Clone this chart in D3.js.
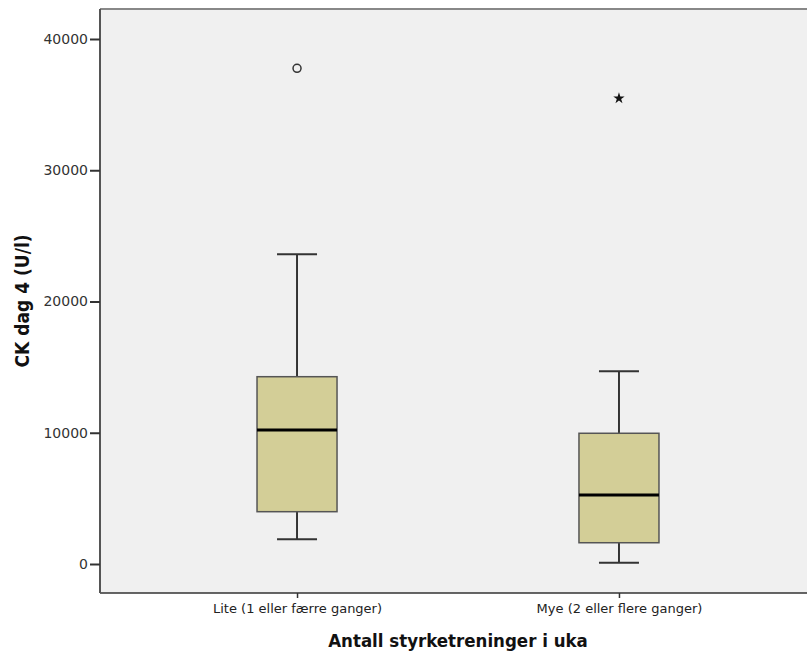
<!DOCTYPE html>
<html><head><meta charset="utf-8">
<script src="https://cdn.jsdelivr.net/npm/d3@7"></script>
<style>body{margin:0;background:#fff}svg{display:block}</style>
</head><body>
<script>
const categories = ["Lite (1 eller færre ganger)", "Mye (2 eller flere ganger)"];
const whiskerLow = [1880, 100];
const q1 = [3985, 1620];
const median = [10210, 5260];
const q3 = [14270, 9960];
const whiskerHigh = [23600, 14680];
const outlierValues = [37770, null];
const extremeValues = [null, 35480];
const yTicks = [0, 10000, 20000, 30000, 40000];

const W = 807, H = 655;
const m = {left: 100, top: 9, right: 816, bottom: 593};
const svg = d3.select("body").append("svg").attr("width", W).attr("height", H);

const x = d3.scalePoint().domain(categories).range([m.left, m.right]).padding(0.612);
const y = d3.scaleLinear().domain([0, 40000]).range([564, 39]);

svg.append("rect").attr("x", m.left).attr("y", m.top).attr("width", m.right - m.left)
  .attr("height", m.bottom - m.top).attr("fill", "#f0f0f0");

const boxW = 80, capW = 40;
const data = categories.map((c, i) => ({c, lo: whiskerLow[i], q1: q1[i], med: median[i], q3: q3[i], hi: whiskerHigh[i], out: outlierValues[i], ext: extremeValues[i]}));

const g = svg.append("g");
data.forEach(d => {
  const cx = x(d.c);
  g.append("line").attr("x1", cx).attr("x2", cx).attr("y1", y(d.hi)).attr("y2", y(d.q3)).attr("stroke", "#333").attr("stroke-width", 2);
  g.append("line").attr("x1", cx).attr("x2", cx).attr("y1", y(d.q1)).attr("y2", y(d.lo)).attr("stroke", "#333").attr("stroke-width", 2);
  g.append("line").attr("x1", cx - capW/2).attr("x2", cx + capW/2).attr("y1", y(d.hi)).attr("y2", y(d.hi)).attr("stroke", "#333").attr("stroke-width", 2);
  g.append("line").attr("x1", cx - capW/2).attr("x2", cx + capW/2).attr("y1", y(d.lo)).attr("y2", y(d.lo)).attr("stroke", "#333").attr("stroke-width", 2);
  g.append("rect").attr("x", cx - boxW/2).attr("y", y(d.q3)).attr("width", boxW).attr("height", y(d.q1) - y(d.q3))
    .attr("fill", "#d3ce97").attr("stroke", "#555").attr("stroke-width", 1.5);
  g.append("line").attr("x1", cx - boxW/2).attr("x2", cx + boxW/2).attr("y1", y(d.med)).attr("y2", y(d.med)).attr("stroke", "#000").attr("stroke-width", 3);
  if (d.out != null) g.append("circle").attr("cx", cx).attr("cy", y(d.out)).attr("r", 4).attr("fill", "none").attr("stroke", "#333").attr("stroke-width", 1.5);
  if (d.ext != null) g.append("path").attr("d", d3.symbol(d3.symbolStar, 40)()).attr("transform", `translate(${cx},${y(d.ext)})`).attr("fill", "#111");
});

// frame
svg.append("line").attr("x1", m.left).attr("x2", m.right).attr("y1", m.top).attr("y2", m.top).attr("stroke", "#888").attr("stroke-width", 2);
svg.append("line").attr("x1", m.left).attr("x2", m.right).attr("y1", m.bottom).attr("y2", m.bottom).attr("stroke", "#333").attr("stroke-width", 1.5);

const yAxis = svg.append("g").attr("transform", `translate(${m.left},0)`)
  .call(d3.axisLeft(y).tickValues(yTicks).tickFormat(d3.format("d")).tickSize(10).tickPadding(2));
yAxis.select(".domain").attr("d", `M0,${m.top}V${m.bottom}`).attr("stroke", "#555").attr("stroke-width", 2);
yAxis.selectAll(".tick line").attr("stroke", "#333").attr("stroke-width", 2);
yAxis.selectAll("text").attr("font-family", "DejaVu Sans").attr("font-size", 14).attr("fill", "#333");

const xAxis = svg.append("g").attr("transform", `translate(0,${m.bottom})`)
  .call(d3.axisBottom(x).tickSize(5).tickPadding(6));
xAxis.select(".domain").remove();
xAxis.selectAll(".tick line").attr("stroke", "#333").attr("stroke-width", 1.5);
xAxis.selectAll("text").attr("font-family", "DejaVu Sans").attr("font-size", 13).attr("fill", "#222");

svg.append("text").attr("x", 458).attr("y", 647).attr("text-anchor", "middle")
  .attr("font-family", "DejaVu Sans Condensed").attr("font-weight", "bold").attr("font-size", 18.5).attr("fill", "#111")
  .text("Antall styrketreninger i uka");
svg.append("text").attr("transform", "translate(29,301) rotate(-90)").attr("text-anchor", "middle")
  .attr("font-family", "DejaVu Sans Condensed").attr("font-weight", "bold").attr("font-size", 19).attr("fill", "#111")
  .text("CK dag 4 (U/l)");
</script>
</body></html>
